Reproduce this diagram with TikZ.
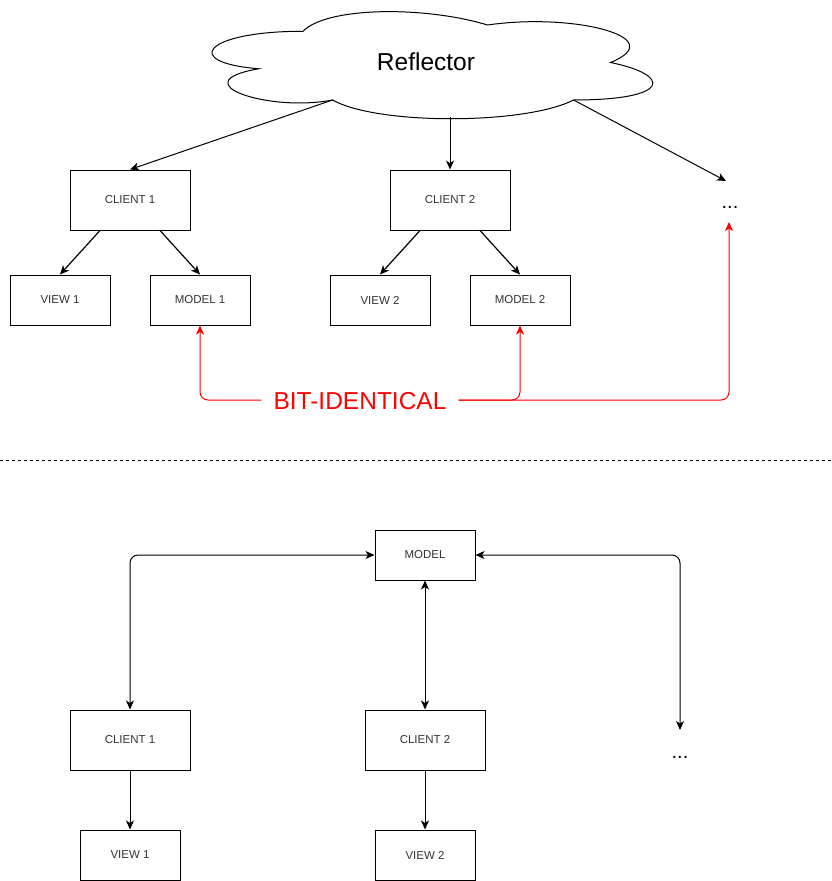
\documentclass[tikz,border=0pt]{standalone}
\usepackage{fontspec}
\setmainfont{Liberation Sans}
\usetikzlibrary{arrows.meta,calc}
\definecolor{txt}{HTML}{333333}
\definecolor{bitred}{HTML}{FF0000}
\tikzset{
  tip/.style={Stealth[length=9pt,width=8pt,inset=2.5pt]},
  box/.style={draw=black,line width=1pt,fill=white,inner sep=0pt,font=\fontsize{11.5}{13}\selectfont,text=txt},
  smallbox/.style={box,minimum width=100pt,minimum height=50pt},
  bigbox/.style={box,minimum width=120pt,minimum height=60pt},
  conn/.style={line width=1pt,-{Stealth[length=9pt,width=8pt,inset=2.5pt]}},
  biconn/.style={line width=1pt,{Stealth[length=9pt,width=8pt,inset=2.5pt]}-{Stealth[length=9pt,width=8pt,inset=2.5pt]},rounded corners=8pt},
  redconn/.style={draw=bitred,line width=1pt,-{Stealth[length=9pt,width=8pt,inset=2.5pt]},rounded corners=8pt},
  dotstxt/.style={inner sep=0pt,font=\fontsize{20}{22}\selectfont}
}
\begin{document}
\begin{tikzpicture}[x=1pt,y=-1pt]
\useasboundingbox (0,0) rectangle (832,881);
% cloud
\draw[line width=1pt,fill=white] (303,31.25)
  .. controls (204.6,31.25) and (180,62.5) .. (258.72,68.75)
  .. controls (180,82.5) and (268.56,112.5) .. (332.52,100)
  .. controls (376.8,125) and (524.4,125) .. (573.6,100)
  .. controls (672,100) and (672,75) .. (610.5,62.5)
  .. controls (672,37.5) and (573.6,12.5) .. (487.5,25)
  .. controls (426,6.25) and (327.6,6.25) .. (303,31.25) -- cycle;
\node[font=\fontsize{24.5}{28}\selectfont] (refl) at (426,62) {Reflector};
\coordinate (cA) at (332.5,100);
\coordinate (cB) at (450,117);
\coordinate (cC) at (573.6,100);
% top row
\node[bigbox] (cl1) at (130,200) {CLIENT 1};
\node[bigbox] (cl2) at (450,200) {CLIENT 2};
\node[smallbox] (v1) at (60,300) {VIEW 1};
\node[smallbox] (m1) at (200,300) {MODEL 1};
\node[smallbox] (v2) at (380,300) {VIEW 2};
\node[smallbox] (m2) at (520,300) {MODEL 2};
\node[dotstxt] (dt) at (730,207) {...};
\coordinate (dtin) at (726,181);
\coordinate (dtred) at (729,222);
\draw[conn] (cA) -- (cl1.north);
\draw[conn] (cB) -- (cl2.north);
\draw[conn] (cC) -- (dtin);
\draw[conn,line width=1.2pt] ($(cl1.south)+(-30,0)$) -- (v1.north);
\draw[conn,line width=1.2pt] ($(cl1.south)+(30,0)$) -- (m1.north);
\draw[conn,line width=1.2pt] ($(cl2.south)+(-30,0)$) -- (v2.north);
\draw[conn,line width=1.2pt] ($(cl2.south)+(30,0)$) -- (m2.north);
% bit identical
\node[inner xsep=12pt,inner ysep=0pt,text=bitred,font=\fontsize{24.5}{28}\selectfont] (bit) at (360,401) {BIT-IDENTICAL};
\draw[redconn] (bit.west |- 0,400) -| (m1.south);
\draw[redconn] (bit.east |- 0,400) -| (m2.south);
\draw[redconn] (bit.east |- 0,400) -| (dtred);
% separator
\draw[dashed,dash pattern=on 3pt off 3pt,line width=1pt] (0,460) -- (832,460);
% bottom
\node[smallbox] (md) at (425,555) {MODEL};
\node[bigbox] (cb1) at (130,740) {CLIENT 1};
\node[bigbox] (cb2) at (425,740) {CLIENT 2};
\node[smallbox] (vb1) at (130,855) {VIEW 1};
\node[smallbox] (vb2) at (425,855) {VIEW 2};
\node[dotstxt] (db) at (680,757) {...};
\coordinate (dbin) at (680,730);
\draw[biconn] (md.west) -| (cb1.north);
\draw[biconn] (md.south) -- (cb2.north);
\draw[biconn] (md.east) -| (dbin);
\draw[conn] (cb1.south) -- (vb1.north);
\draw[conn] (cb2.south) -- (vb2.north);
\end{tikzpicture}
\end{document}
